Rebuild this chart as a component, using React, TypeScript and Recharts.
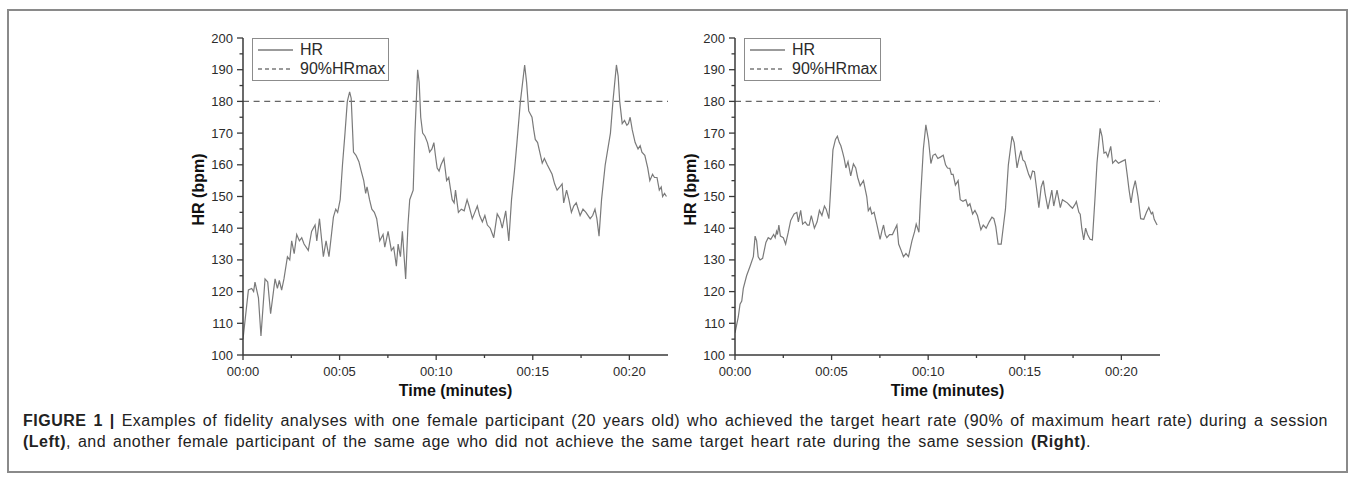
import React from "react";
import {
  LineChart,
  Line,
  XAxis,
  YAxis,
  Legend,
  ReferenceLine,
  Label,
} from "recharts";

// [minutes, bpm]
const leftSession: [number, number][] = [
  [0, 105], [0.28, 120.5], [0.45, 121], [0.55, 120], [0.62, 123], [0.8, 118], [0.93, 106],
  [1.14, 124], [1.28, 123], [1.43, 113], [1.66, 124], [1.78, 121], [1.88, 123.5], [2.0, 120.5],
  [2.12, 124], [2.3, 131], [2.42, 130], [2.52, 136], [2.65, 132], [2.78, 138], [2.92, 136],
  [3.04, 137], [3.16, 135], [3.38, 133], [3.55, 139], [3.73, 141], [3.82, 136], [3.96, 143],
  [4.16, 131], [4.3, 136], [4.45, 131], [4.68, 143.5], [4.8, 146], [4.9, 145], [5.03, 149],
  [5.15, 160], [5.28, 170], [5.4, 180], [5.52, 183], [5.6, 181], [5.72, 164], [5.85, 163],
  [6.0, 161], [6.12, 158], [6.25, 155], [6.35, 151], [6.42, 153], [6.55, 149], [6.67, 146],
  [6.8, 145], [6.92, 143], [7.08, 136], [7.25, 138], [7.34, 134], [7.51, 139], [7.68, 133],
  [7.8, 134], [7.94, 128], [8.03, 135], [8.15, 131], [8.25, 139], [8.42, 124], [8.54, 141],
  [8.63, 149], [8.81, 152], [8.9, 170], [9.04, 190], [9.12, 186], [9.2, 175], [9.3, 170],
  [9.42, 169], [9.55, 167], [9.66, 164], [9.78, 165], [9.88, 167], [9.96, 163], [10.05, 159],
  [10.15, 158], [10.25, 160], [10.4, 162], [10.54, 155], [10.65, 156], [10.75, 152], [10.83, 149],
  [10.93, 148], [11.0, 152], [11.15, 145], [11.3, 146], [11.45, 145.5], [11.6, 149], [11.7, 147],
  [11.87, 143], [12.0, 145], [12.13, 147], [12.25, 144], [12.39, 142], [12.52, 144], [12.65, 141],
  [12.8, 140], [12.98, 137], [13.16, 144.5], [13.3, 143], [13.42, 140], [13.6, 145.5], [13.76, 136],
  [13.9, 149], [14.05, 158], [14.18, 167], [14.36, 180], [14.58, 191.5], [14.68, 186], [14.79, 177],
  [14.96, 175], [15.05, 171], [15.13, 168], [15.25, 167], [15.4, 163], [15.49, 160.5], [15.6, 162],
  [15.75, 160], [16.0, 157], [16.13, 154], [16.26, 152], [16.4, 153], [16.52, 154], [16.6, 148],
  [16.75, 152], [16.87, 149], [17.0, 145], [17.12, 147], [17.25, 148], [17.45, 144], [17.6, 146],
  [17.75, 145], [17.97, 143], [18.1, 144], [18.22, 146], [18.32, 143], [18.43, 137.5], [18.56, 149],
  [18.75, 160], [19.02, 170], [19.15, 180], [19.33, 191.5], [19.42, 188], [19.5, 180], [19.63, 173],
  [19.75, 174], [19.87, 172.5], [19.95, 173], [20.04, 175], [20.15, 171], [20.3, 167], [20.45, 165],
  [20.56, 166], [20.65, 164], [20.8, 163], [20.95, 159], [21.06, 155], [21.2, 157], [21.3, 156],
  [21.43, 156], [21.55, 152], [21.65, 153], [21.72, 150], [21.82, 151], [21.92, 150],
];

const rightSession: [number, number][] = [
  [0, 107], [0.17, 112], [0.26, 116], [0.35, 117], [0.43, 121], [0.6, 125], [0.78, 128],
  [0.95, 131], [1.04, 137.5], [1.12, 136], [1.2, 131], [1.3, 130], [1.43, 130.5], [1.6, 135.5],
  [1.72, 137], [1.85, 136.5], [2.0, 138], [2.08, 137], [2.15, 139], [2.2, 138], [2.27, 141],
  [2.35, 137.5], [2.5, 137], [2.62, 135], [2.75, 138.5], [2.88, 142.4], [3.06, 144.5], [3.2, 145],
  [3.28, 142], [3.4, 145.6], [3.5, 141.3], [3.63, 142], [3.75, 141], [3.84, 141], [3.95, 144],
  [4.11, 140], [4.25, 142], [4.37, 145.6], [4.5, 144], [4.63, 147], [4.72, 146], [4.86, 143],
  [4.92, 149], [5.07, 164.7], [5.2, 168], [5.3, 169], [5.4, 167], [5.48, 166], [5.57, 164],
  [5.65, 162], [5.74, 159], [5.85, 161], [5.99, 156.5], [6.13, 160.3], [6.25, 159], [6.35, 156],
  [6.48, 153.4], [6.65, 155], [6.75, 152], [6.82, 150], [6.9, 145.5], [7.0, 146.5], [7.08, 144.5],
  [7.2, 145], [7.34, 141.3], [7.51, 136.5], [7.6, 139], [7.69, 141], [7.78, 138], [7.86, 137],
  [8.0, 138], [8.15, 138], [8.38, 141], [8.47, 135], [8.6, 133], [8.72, 131], [8.85, 132],
  [8.98, 131], [9.16, 136], [9.3, 139], [9.38, 141.3], [9.52, 138.7], [9.6, 149], [9.75, 165],
  [9.88, 172.6], [10.02, 167.6], [10.14, 160.4], [10.25, 163], [10.37, 163.4], [10.5, 162],
  [10.65, 162.5], [10.78, 163], [10.9, 160], [11.0, 159], [11.12, 158.9], [11.2, 157], [11.29, 157],
  [11.41, 153.6], [11.55, 155], [11.66, 149], [11.8, 148.5], [11.95, 149], [12.05, 147],
  [12.16, 147.7], [12.3, 144.5], [12.42, 145.6], [12.55, 144], [12.73, 139.5], [12.85, 141],
  [13.0, 140], [13.16, 142], [13.3, 143.5], [13.4, 143], [13.5, 140.5], [13.62, 135], [13.78, 135],
  [13.9, 141], [14.0, 146], [14.15, 160], [14.34, 169], [14.45, 167], [14.6, 159], [14.7, 162],
  [14.8, 164.5], [14.9, 161.5], [15.0, 161], [15.1, 159], [15.2, 157], [15.3, 155.6], [15.4, 158],
  [15.5, 157.8], [15.6, 153], [15.73, 146.5], [15.85, 153], [15.96, 155], [16.05, 151], [16.2, 146],
  [16.3, 149], [16.4, 152], [16.5, 147], [16.67, 152], [16.84, 146.5], [16.95, 149], [17.05, 148.6],
  [17.2, 148], [17.35, 147], [17.47, 146.3], [17.6, 147.5], [17.67, 148.4], [17.8, 145],
  [17.87, 144.4], [17.95, 140], [18.05, 136.3], [18.15, 140], [18.25, 138], [18.38, 136.5],
  [18.5, 136.3], [18.63, 149], [18.74, 160.7], [18.9, 171.5], [19.0, 169], [19.1, 163.7],
  [19.2, 164], [19.3, 162.5], [19.45, 165.8], [19.55, 160.5], [19.7, 161.5], [19.85, 160.5],
  [20.0, 161], [20.2, 161.6], [20.3, 157], [20.4, 152], [20.5, 148], [20.6, 152], [20.72, 155],
  [20.86, 150], [21.0, 143], [21.16, 142.8], [21.3, 145], [21.42, 146.5], [21.55, 144.5],
  [21.62, 145], [21.7, 142.8], [21.85, 141],
];

const TARGET_HR = 180; // 90% HRmax
const X_TICKS = [0, 2.5, 5, 7.5, 10, 12.5, 15, 17.5, 20];
const Y_TICKS = [100, 105, 110, 115, 120, 125, 130, 135, 140, 145, 150, 155, 160, 165, 170, 175, 180, 185, 190, 195, 200];
const LEGEND_ITEMS = [
  { name: "HR", dash: undefined },
  { name: "90%HRmax", dash: "4 3" },
];

const FONT = "'Liberation Sans', Arial, Helvetica, sans-serif";
const AXIS = "#3a3a3a";
const TRACE = "#7a7a7a";
const TEXT = "#2b2b2b";

const Y_TS = 6;
const Y_TM = 4;
const X_TS = 5;
const X_TM = 6;

const fmtTime = (m: number) => `00:${String(m).padStart(2, "0")}`;

function YTick(props: any) {
  const { x, y, payload } = props;
  const v = payload.value;
  const major = v % 10 === 0;
  const ax = x + Y_TS + Y_TM;
  return (
    <g>
      <line x1={ax - (major ? 6 : 3.5)} x2={ax} y1={y} y2={y} stroke={AXIS} strokeWidth={1.3} />
      {major && (
        <text x={x} y={y} textAnchor="end" dominantBaseline="central" fontFamily={FONT} fontSize={13} fill={TEXT}>
          {v}
        </text>
      )}
    </g>
  );
}

function XTick(props: any) {
  const { x, y, payload } = props;
  const v = payload.value;
  const major = v % 5 === 0;
  const ay = y - X_TS - X_TM;
  return (
    <g>
      <line x1={x} x2={x} y1={ay} y2={ay + (major ? 5 : 3)} stroke={AXIS} strokeWidth={1.3} />
      {major && (
        <text x={x} y={y} textAnchor="middle" dy="0.75em" fontFamily={FONT} fontSize={13} fill={TEXT}>
          {fmtTime(v)}
        </text>
      )}
    </g>
  );
}

function LegendBox() {
  return (
    <div
      style={{
        border: "1px solid #8c8c8c",
        background: "#fff",
        padding: "1px 3px 2px 5px",
        fontFamily: FONT,
        fontSize: 16,
        color: TEXT,
        lineHeight: "19px",
        whiteSpace: "nowrap",
      }}
    >
      {LEGEND_ITEMS.map((it) => (
        <div key={it.name} style={{ display: "flex", alignItems: "center" }}>
          <svg width={35} height={10} style={{ marginRight: 7 }}>
            <line x1={0} x2={35} y1={5} y2={5} stroke={TRACE} strokeWidth={1.3} strokeDasharray={it.dash} />
          </svg>
          <span>{it.name}</span>
        </div>
      ))}
    </div>
  );
}

function HRPanel({ series, left }: { series: [number, number][]; left: number }) {
  const data = series.map(([t, hr]) => ({ t, hr }));
  return (
    <div style={{ position: "absolute", left, top: 20 }}>
      <LineChart width={518} height={380} data={data} margin={{ top: 18, right: 10, bottom: 5, left: 0 }}>
        <XAxis
          dataKey="t"
          type="number"
          domain={[0, 22]}
          ticks={X_TICKS}
          interval={0}
          tickLine={false}
          tickSize={X_TS}
          tickMargin={X_TM}
          tick={<XTick />}
          height={40}
          stroke={AXIS}
          strokeWidth={1.5}
          allowDataOverflow
        >
          <Label
            content={(p: any) => {
              const vb = p.viewBox;
              return (
                <text
                  x={vb.x + vb.width / 2}
                  y={vb.y + 35}
                  textAnchor="middle"
                  dominantBaseline="central"
                  fontFamily={FONT}
                  fontWeight="bold"
                  fontSize={16}
                  fill="#111"
                >
                  Time (minutes)
                </text>
              );
            }}
          />
        </XAxis>
        <YAxis
          type="number"
          domain={[100, 200]}
          ticks={Y_TICKS}
          interval={0}
          tickLine={false}
          tickSize={Y_TS}
          tickMargin={Y_TM}
          tick={<YTick />}
          width={83}
          stroke={AXIS}
          strokeWidth={1.5}
          allowDataOverflow
        >
          <Label
            content={(p: any) => {
              const vb = p.viewBox;
              const cx = vb.x + vb.width - 45;
              const cy = vb.y + vb.height / 2 - 7;
              return (
                <text
                  x={cx}
                  y={cy}
                  transform={`rotate(-90 ${cx} ${cy})`}
                  textAnchor="middle"
                  dominantBaseline="central"
                  fontFamily={FONT}
                  fontWeight="bold"
                  fontSize={16}
                  fill="#111"
                >
                  HR (bpm)
                </text>
              );
            }}
          />
        </YAxis>
        <ReferenceLine y={TARGET_HR} stroke="#666" strokeWidth={1.4} strokeDasharray="6 4.6" />
        <Line
          type="linear"
          dataKey="hr"
          stroke={TRACE}
          strokeWidth={1.2}
          dot={false}
          activeDot={false}
          isAnimationActive={false}
        />
        <Legend
          layout="vertical"
          align="center"
          verticalAlign="middle"
          wrapperStyle={{ left: 92, top: 18, width: "auto", height: "auto" }}
          content={() => <LegendBox />}
        />
      </LineChart>
    </div>
  );
}

export default function App() {
  return (
    <div style={{ position: "absolute", left: 0, top: 0, width: 1357, height: 482, background: "#fff" }}>
      <div
        style={{
          position: "absolute",
          left: 7,
          top: 9,
          width: 1337,
          height: 460,
          border: "2px solid #8a8a8a",
        }}
      />
      <HRPanel series={leftSession} left={160} />
      <HRPanel series={rightSession} left={652} />
      <div
        style={{
          position: "absolute",
          left: 23,
          top: 410,
          fontFamily: FONT,
          fontSize: 16,
          letterSpacing: 0.5,
          wordSpacing: 2,
          lineHeight: "21px",
          color: "#222",
          whiteSpace: "nowrap",
        }}
      >
        <b>FIGURE 1 |</b> Examples of fidelity analyses with one female participant (20 years old) who achieved the target heart rate (90% of maximum heart rate) during a session
        <br />
        <b>(Left)</b>, and another female participant of the same age who did not achieve the same target heart rate during the same session <b>(Right)</b>.
      </div>
    </div>
  );
}
